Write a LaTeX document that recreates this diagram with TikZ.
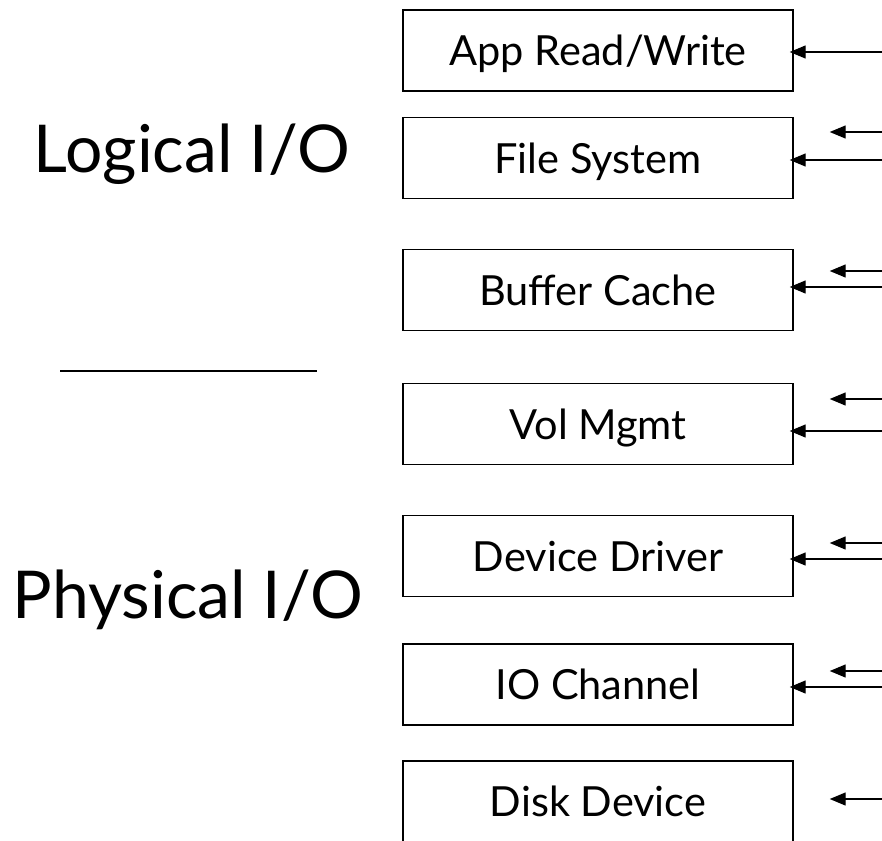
\documentclass[tikz,border=0pt]{standalone}
\usepackage{fontspec}
\setmainfont{Lato}
\usetikzlibrary{arrows.meta}
\begin{document}
\begin{tikzpicture}[x=1pt,y=-1pt,
  layer/.style={draw=black, line width=1.4pt, minimum width=390pt, minimum height=81pt, inner sep=0pt, text height=30pt, text depth=0pt, font=\fontsize{41.5}{48}\selectfont},
  side/.style={anchor=base, inner sep=0pt, font=\fontsize{66}{78}\selectfont},
  arr/.style={line width=1.3pt, -{Triangle[length=16pt,width=13pt]}},
  longarr/.style={arr, shorten >=-4pt},
  shortarr/.style={arr, shorten >=36pt}]
\useasboundingbox (0,0) rectangle (882,840);
\node[layer] (b1) at (598,50.5) {App Read/Write};
\node[layer] (b2) at (598,158) {File System};
\node[layer] (b3) at (598,290) {Buffer Cache};
\node[layer] (b4) at (598,424) {Vol Mgmt};
\node[layer] (b5) at (598,556) {Device Driver};
\node[layer] (b6) at (598,684.5) {IO Channel};
\node[layer] (b7) at (598,801.5) {Disk Device};
\node[side] (logical) at (192,172) {Logical I/O};
\node[side] (physical) at (188,618) {Physical I/O};
\coordinate (divl) at (60,371);
\coordinate (divr) at (317,371);
\draw[line width=1.5pt] (divl) -- (divr);
% sources at right edge
\coordinate (s1l) at (882,52);
\coordinate (s2s) at (882,132);
\coordinate (s2l) at (882,160);
\coordinate (s3s) at (882,271);
\coordinate (s3l) at (882,287);
\coordinate (s4s) at (882,399);
\coordinate (s4l) at (882,431);
\coordinate (s5s) at (882,543);
\coordinate (s5l) at (882,559);
\coordinate (s6s) at (882,671);
\coordinate (s6l) at (882,687);
\coordinate (s7s) at (882,799);
\draw[longarr] (s1l) -- (b1.east |- s1l);
\draw[shortarr] (s2s) -- (b2.east |- s2s);
\draw[longarr] (s2l) -- (b2.east |- s2l);
\draw[shortarr] (s3s) -- (b3.east |- s3s);
\draw[longarr] (s3l) -- (b3.east |- s3l);
\draw[shortarr] (s4s) -- (b4.east |- s4s);
\draw[longarr] (s4l) -- (b4.east |- s4l);
\draw[shortarr] (s5s) -- (b5.east |- s5s);
\draw[longarr] (s5l) -- (b5.east |- s5l);
\draw[shortarr] (s6s) -- (b6.east |- s6s);
\draw[longarr] (s6l) -- (b6.east |- s6l);
\draw[shortarr] (s7s) -- (b7.east |- s7s);
\end{tikzpicture}
\end{document}
